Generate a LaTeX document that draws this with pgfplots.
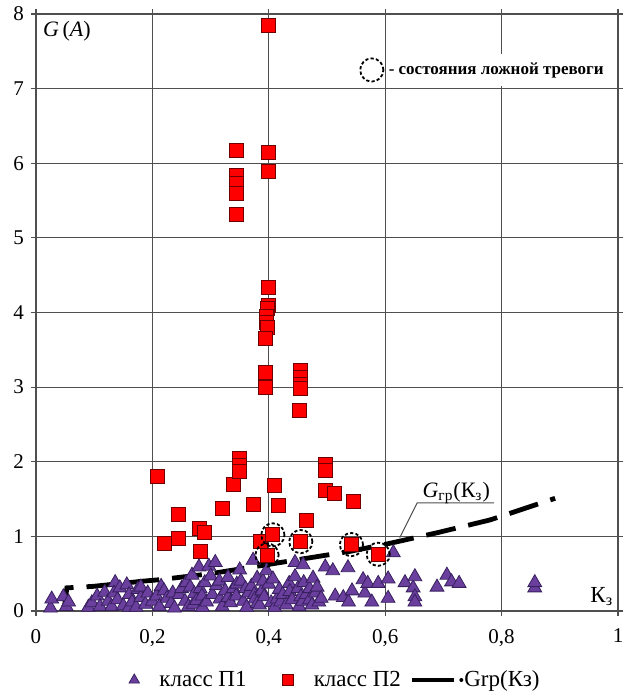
\documentclass[border=0pt]{standalone}
\usepackage{fontspec}
\setmainfont{Liberation Serif}
\usepackage{pgfplots}
\pgfplotsset{compat=1.18}

\definecolor{clspurple}{HTML}{6A3F9E}
\definecolor{clspurpleD}{HTML}{38205E}
\definecolor{clsred}{HTML}{FF0000}
\definecolor{clsredD}{HTML}{6E0000}
\definecolor{gridgray}{HTML}{4F4F4F}

\begin{document}
\begin{tikzpicture}
\path[use as bounding box] (-18pt,-42pt) rectangle (293.5pt,305.5pt);
\begin{axis}[at={(0,0)}, anchor=south west, scale only axis,
    width=291pt, height=298.5pt,
    xmin=0, xmax=1, ymin=0, ymax=8,
    xtick={0,0.2,0.4,0.6,0.8,1}, ytick={0,1,2,3,4,5,6,7,8},
    grid=major, grid style={gridgray, line width=0.55pt},
    axis line style={gridgray, line width=0.7pt},
    tick style={gridgray, line width=0.55pt},
    tick align=outside, major tick length=2.5pt,
    /pgf/number format/assume math mode=true,
    /pgf/number format/use comma,
    tick label style={font=\fontsize{10.5}{12}\selectfont},
    xticklabel style={yshift=-3pt},
    legend style={at={(0.516,-0.1156)}, anchor=center, draw=none, fill=none,
      font=\fontsize{11.5}{13}\selectfont, legend columns=-1,
      /tikz/column 1/.style={column sep=8pt},
      /tikz/column 2/.style={column sep=16pt},
      /tikz/column 3/.style={column sep=8pt},
      /tikz/column 4/.style={column sep=3.7pt},
      /tikz/column 5/.style={column sep=3pt}},
  ]
  % класс П1
  \addplot[only marks, mark=triangle*, mark size=4pt,
    legend image post style={mark size=3pt},
    mark options={fill=clspurple, draw=clspurpleD, line width=0.4pt}]
  table {
0.025 0.04
0.027 0.16
0.047 0.19
0.052 0.06
0.056 0.12
0.090 0.05
0.096 0.11
0.105 0.20
0.110 0.06
0.118 0.25
0.124 0.13
0.130 0.06
0.136 0.38
0.134 0.24
0.140 0.15
0.144 0.31
0.150 0.07
0.156 0.35
0.160 0.22
0.160 0.05
0.165 0.12
0.172 0.05
0.175 0.29
0.180 0.18
0.180 0.32
0.188 0.09
0.192 0.24
0.200 0.13
0.207 0.20
0.212 0.06
0.215 0.33
0.220 0.27
0.225 0.17
0.232 0.10
0.235 0.24
0.238 0.04
0.246 0.22
0.250 0.30
0.256 0.13
0.258 0.38
0.262 0.06
0.265 0.32
0.268 0.48
0.270 0.09
0.272 0.23
0.276 0.14
0.280 0.59
0.282 0.30
0.285 0.20
0.286 0.05
0.290 0.38
0.293 0.12
0.297 0.60
0.300 0.47
0.303 0.22
0.308 0.65
0.310 0.34
0.315 0.40
0.316 0.16
0.320 0.06
0.325 0.27
0.330 0.45
0.330 0.18
0.334 0.11
0.339 0.30
0.344 0.20
0.345 0.36
0.350 0.55
0.352 0.40
0.356 0.13
0.360 0.30
0.362 0.05
0.365 0.24
0.370 0.33
0.373 0.68
0.375 0.22
0.376 0.16
0.380 0.44
0.380 0.10
0.384 0.08
0.388 0.27
0.390 0.40
0.392 0.19
0.396 0.54
0.400 0.36
0.404 0.11
0.407 0.43
0.410 0.05
0.414 0.16
0.418 0.29
0.420 0.12
0.424 0.22
0.430 0.08
0.435 0.37
0.436 0.26
0.440 0.15
0.445 0.65
0.445 0.46
0.450 0.30
0.452 0.06
0.455 0.19
0.458 0.13
0.459 0.62
0.460 0.38
0.464 0.22
0.470 0.15
0.470 0.30
0.474 0.08
0.476 0.44
0.480 0.24
0.483 0.32
0.486 0.12
0.490 0.17
0.497 0.59
0.510 0.54
0.514 0.20
0.528 0.18
0.536 0.58
0.537 0.12
0.543 0.27
0.562 0.42
0.565 0.24
0.570 0.37
0.577 0.12
0.588 0.37
0.605 0.43
0.605 0.17
0.614 0.78
0.634 0.38
0.648 0.31
0.651 0.46
0.651 0.19
0.651 0.12
0.689 0.32
0.706 0.48
0.714 0.39
0.727 0.37
0.857 0.31
0.857 0.38
  };
  \addlegendentry{класс П1}
  % класс П2
  \addplot[only marks, mark=square*, mark size=3.5pt,
    legend image post style={mark size=2.8pt},
    mark options={fill=clsred, draw=clsredD, line width=0.4pt}]
  table {
0.399 7.85
0.345 6.17
0.345 5.84
0.345 5.73
0.345 5.60
0.345 5.31
0.399 6.14
0.399 5.89
0.399 4.34
0.399 4.10
0.397 4.05
0.396 3.95
0.396 3.87
0.397 3.80
0.394 3.65
0.394 3.20
0.394 3.00
0.454 3.22
0.454 3.13
0.454 3.03
0.454 2.98
0.453 2.69
0.208 1.80
0.220 0.90
0.244 0.97
0.244 1.30
0.280 1.11
0.290 1.05
0.282 0.80
0.321 1.38
0.340 1.70
0.350 2.05
0.350 1.95
0.350 1.87
0.373 1.43
0.385 0.93
0.397 0.75
0.407 1.02
0.410 1.68
0.417 1.42
0.455 0.93
0.465 1.21
0.497 1.97
0.497 1.88
0.497 1.62
0.512 1.57
0.545 1.47
0.542 0.89
0.588 0.76
  };
  \addlegendentry{класс П2}
  % состояния ложной тревоги
  \addplot[only marks, mark=o, mark size=5.8pt, forget plot,
    mark options={draw=black, line width=0.9pt,
      dash pattern=on 1.6pt off 1.1pt}]
  table {
0.397 0.75
0.407 1.02
0.455 0.93
0.542 0.89
0.588 0.76
0.577 7.25
  };
  % G_гр(К_з)
  \addplot[black, line width=2.4pt, dash pattern=on 15pt off 6.5pt,
    legend image code/.code={
      \draw[overlay, solid, line width=2.4pt] (0pt,0pt) -- (21pt,0pt);
      \fill[overlay, draw=none] (24.5pt,0pt) circle (1pt);
      \path[draw=none, fill=none] (0pt,-2pt) rectangle (21pt,2pt);}]
  table {
0.048 0.00
0.053 0.31
0.098 0.33
0.184 0.40
0.213 0.42
0.300 0.50
0.380 0.60
0.420 0.65
0.460 0.70
0.500 0.75
0.540 0.80
0.610 0.91
0.690 1.05
0.780 1.22
0.892 1.51
  };
  \addlegendentry{Grp(Кз)}

  \node[anchor=west, fill=white, inner xsep=1pt, inner ysep=4pt,
    font=\fontsize{8.5}{10}\selectfont\bfseries]
    at (axis cs:0.602,7.25) {- состояния ложной тревоги};
  \node[anchor=north west, inner sep=1pt, font=\fontsize{11}{13}\selectfont]
    at (axis cs:0.008,7.93) {\textit{G}\,(\textit{A})};
  \node[anchor=base west, inner sep=0pt, font=\fontsize{11.5}{13}\selectfont]
    at (axis cs:0.952,0.12) {К\textsubscript{з}};
  \draw[gridgray, line width=0.5pt] (axis cs:0.625,0.98) -- (axis cs:0.655,1.45)
    -- (axis cs:0.787,1.45);
  \node[anchor=base, inner sep=0pt, font=\fontsize{11}{13}\selectfont]
    at (axis cs:0.722,1.52) {\textit{G}\textsubscript{гр}(К\textsubscript{з})};
\end{axis}
\end{tikzpicture}
\end{document}
